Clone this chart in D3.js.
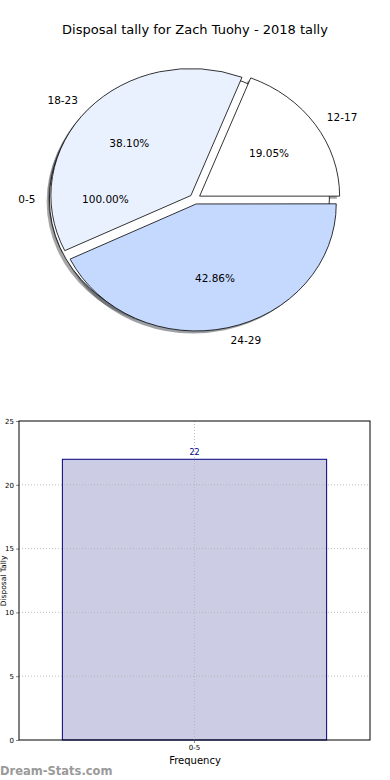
<!DOCTYPE html>
<html>
<head>
<meta charset="utf-8">
<script src="https://cdn.jsdelivr.net/npm/d3@7"></script>
<style>
  body { margin: 0; background: #fff; }
  svg { display: block; font-family: "DejaVu Sans", sans-serif; }
</style>
</head>
<body>
<script>
// Pie data (percent shown on each slice, as in the source image)
var pieLabels = ["0-5", "12-17", "18-23", "24-29"]
var piePct = [100.00, 19.05, 38.10, 42.86]
var pieColors = ["#ffffff", "#ffffff", "#eaf1fe", "#c5d9fe"]

// Bar data
var barCats = ["0-5"]
var barVals = [22]
var yTicks = [0, 5, 10, 15, 20, 25]

var W = 390, H = 780

var svg = d3.select("body")
    .append("svg")
        .attr("width", W)
        .attr("height", H)

// Title
svg.append("text")
    .attr("x", 195)
    .attr("y", 34)
    .attr("text-anchor", "middle")
    .attr("font-size", 13)
    .attr("fill", "#000")
    .text("Disposal tally for Zach Tuohy - 2018 tally")

// ---------- Pie (elliptical, like the stretched matplotlib axes) ----------
var cx = 195, cy = 199, rx = 140, ry = 127, explode = 0.04

// percent -> angle; starts at 3 o'clock and runs counter-clockwise
var ang = d3.scaleLinear().domain([0, 100]).range([Math.PI / 2, Math.PI / 2 - 2 * Math.PI])
var cum = Array.from(d3.cumsum(piePct))
var arcs = piePct.map(function(v, i) {
  return {index: i, value: v, startAngle: ang(cum[i] - v), endAngle: ang(cum[i])}
})
var arc = d3.arc().innerRadius(0).outerRadius(1)

var pg = svg.append("g")
    .attr("transform", "translate(" + cx + "," + cy + ")")

function shade(c) {
  var k = d3.rgb(c)
  return d3.rgb(k.r * 0.3, k.g * 0.3, k.b * 0.3).toString()
}

function offs(a) {
  var m = (a.startAngle + a.endAngle) / 2
  return [Math.sin(m) * explode, -Math.cos(m) * explode]
}

function slicePath(a) {
  // a full-turn slice is drawn as a whole ellipse
  if (Math.abs(a.endAngle - a.startAngle) >= 2 * Math.PI - 1e-6)
    return arc({startAngle: 0, endAngle: 2 * Math.PI})
  return arc({startAngle: Math.min(a.startAngle, a.endAngle), endAngle: Math.max(a.startAngle, a.endAngle)})
}

// shadows first
arcs.forEach(function(a) {
  var o = offs(a)
  pg.append("g")
      .attr("transform", "translate(" + (o[0] * rx - 2.8) + "," + (o[1] * ry + 2.5) + ") scale(" + rx + "," + ry + ")")
    .append("path")
      .attr("d", slicePath(a))
      .attr("fill", shade(pieColors[a.index]))
      .attr("fill-opacity", 0.5)
})

// wedges
arcs.forEach(function(a) {
  var o = offs(a)
  pg.append("g")
      .attr("transform", "translate(" + o[0] * rx + "," + o[1] * ry + ") scale(" + rx + "," + ry + ")")
    .append("path")
      .attr("d", slicePath(a))
      .attr("fill", pieColors[a.index])
      .attr("stroke", "#000")
      .attr("stroke-width", 0.8)
      .attr("vector-effect", "non-scaling-stroke")
      .attr("stroke-linejoin", "miter")
})

// labels
arcs.forEach(function(a) {
  var m = (a.startAngle + a.endAngle) / 2
  var o = offs(a)
  var ux = Math.sin(m), uy = -Math.cos(m)
  var lx = (o[0] + 1.1 * ux) * rx, ly = (o[1] + 1.1 * uy) * ry
  pg.append("text")
      .attr("x", lx)
      .attr("y", ly)
      .attr("dy", "0.35em")
      .attr("text-anchor", ux > 1e-6 ? "start" : "end")
      .attr("font-size", 10.5)
      .text(pieLabels[a.index])
  var px = (o[0] + 0.6 * ux) * rx, py = (o[1] + 0.6 * uy) * ry
  pg.append("text")
      .attr("x", px)
      .attr("y", py)
      .attr("dy", "0.35em")
      .attr("text-anchor", "middle")
      .attr("font-size", 10.5)
      .text(piePct[a.index].toFixed(2) + "%")
})

// ---------- Bar chart ----------
var margin = {top: 421, left: 19},
    bw = 351,
    bh = 319

var x = d3.scaleBand().domain(barCats).range([0, bw]).padding(0.141)
var y = d3.scaleLinear().domain([0, 25]).range([bh, 0])

var bg = svg.append("g")
    .attr("transform", "translate(" + margin.left + "," + margin.top + ")")

// bars
bg.selectAll("rect.bar")
    .data(barVals)
    .enter().append("rect")
      .attr("class", "bar")
      .attr("x", (d, i) => x(barCats[i]))
      .attr("y", d => y(d))
      .attr("width", x.bandwidth())
      .attr("height", d => bh - y(d))
      .attr("fill", "#ccccE5")
      .attr("stroke", "#00007f")
      .attr("stroke-width", 1)

// grid (dotted, drawn over the bar)
bg.selectAll("line.hgrid")
    .data(yTicks.slice(1, -1))
    .enter().append("line")
      .attr("x1", 0).attr("x2", bw)
      .attr("y1", d => y(d)).attr("y2", d => y(d))
      .attr("stroke", "#b0b0b0")
      .attr("stroke-width", 0.8)
      .attr("stroke-dasharray", "1,2")

bg.selectAll("line.vgrid")
    .data(barCats)
    .enter().append("line")
      .attr("x1", d => x(d) + x.bandwidth() / 2)
      .attr("x2", d => x(d) + x.bandwidth() / 2)
      .attr("y1", 0).attr("y2", bh)
      .attr("stroke", "#b0b0b0")
      .attr("stroke-width", 0.8)
      .attr("stroke-dasharray", "1,2")

// value labels
bg.selectAll("text.val")
    .data(barVals)
    .enter().append("text")
      .attr("x", (d, i) => x(barCats[i]) + x.bandwidth() / 2)
      .attr("y", d => y(d) - 4)
      .attr("text-anchor", "middle")
      .attr("font-size", 8)
      .attr("fill", "#00007f")
      .text(d => d)

// axes
var yAxis = d3.axisLeft(y).tickValues(yTicks).tickSize(3).tickPadding(2)
var xAxis = d3.axisBottom(x).tickSize(3).tickPadding(2)

var ya = bg.append("g").call(yAxis)
ya.select(".domain").remove()
ya.selectAll("line").attr("stroke", "#888")
ya.selectAll("text").attr("font-size", 7).attr("font-family", "DejaVu Sans")

var xa = bg.append("g")
    .attr("transform", "translate(0," + bh + ")")
    .call(xAxis)
xa.select(".domain").remove()
xa.selectAll("line").attr("stroke", "#888")
xa.selectAll("text").attr("font-size", 7).attr("font-family", "DejaVu Sans")

// frame
bg.append("rect")
    .attr("width", bw)
    .attr("height", bh)
    .attr("fill", "none")
    .attr("stroke", "#000")
    .attr("stroke-width", 1)

// axis labels
svg.append("text")
    .attr("x", 195)
    .attr("y", 764)
    .attr("text-anchor", "middle")
    .attr("font-size", 10)
    .text("Frequency")

svg.append("text")
    .attr("transform", "translate(6,581) rotate(-90)")
    .attr("text-anchor", "middle")
    .attr("font-size", 7.5)
    .text("Disposal Tally")

// watermark
svg.append("text")
    .attr("x", 0)
    .attr("y", 775)
    .attr("font-size", 11.5)
    .attr("font-weight", "bold")
    .attr("fill", "#9a9a9a")
    .text("Dream-Stats.com")
</script>
</body>
</html>
